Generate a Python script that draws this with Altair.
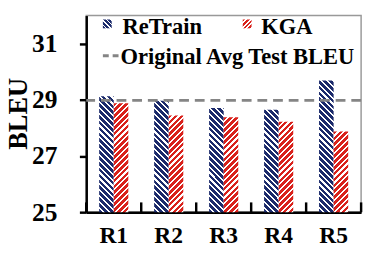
import altair as alt

rounds = ["R1", "R2", "R3", "R4", "R5"]
series = ["ReTrain", "KGA"]
retrain = [29.13, 28.97, 28.71, 28.65, 29.69]
kga = [28.88, 28.44, 28.38, 28.22, 27.87]
avg_bleu = [28.98]
avg_label = "Original Avg Test BLEU"
y_ticks = [25, 27, 29, 31]

colors = {"ReTrain": "#1B2A6B", "KGA": "#D9221C"}
direction = {"ReTrain": "\\", "KGA": "/"}

W, H = 281, 201
Y0, Y1 = 25, 32
BAR_W = W / 5 / 3.77
FONT = "Liberation Serif"


def hatch(w, h, color, d, period=6.0, frac=0.62):
    L = w + h
    s = L / (w * w + h * h)
    if d == "/":
        x1, y1, x2, y2 = 0, 0, w * s, h * s
    else:
        x1, y1, x2, y2 = 0, 1, w * s, 1 - h * s
    stops = []
    k = 0
    while k * period < L:
        a = k * period / L
        b = min((k * period + frac * period) / L, 1.0)
        c = min((k + 1) * period / L, 1.0)
        stops += [
            {"offset": a, "color": color},
            {"offset": b, "color": color},
            {"offset": b, "color": "#ffffff"},
            {"offset": c, "color": "#ffffff"},
        ]
        k += 1
    return {"gradient": "linear", "x1": x1, "y1": y1, "x2": x2, "y2": y2, "stops": stops}


rows = []
for name, vals in zip(series, [retrain, kga]):
    for r, v in zip(rounds, vals):
        h = (v - Y0) * H / (Y1 - Y0)
        rows.append({"round": r, "series": name, "bleu": v,
                     "grad": hatch(BAR_W, h, colors[name], direction[name])})

xscale = alt.Scale(paddingInner=0, paddingOuter=0)
yaxis = alt.Axis(values=y_ticks, tickSize=7, labelPadding=23, labelFontSize=26,
                 titleFontSize=27, titleX=-61, titleY=100, titleAngle=270,
                 titleAlign="center", titleBaseline="alphabetic", title="BLEU")
xaxis = alt.Axis(ticks=False, labelFontSize=24, labelPadding=12, labelAngle=0,
                 title=None)

bars = alt.Chart(alt.Data(values=rows)).mark_bar(strokeWidth=0).encode(
    x=alt.X("round:N", sort=rounds, scale=xscale, axis=xaxis),
    xOffset=alt.XOffset("series:N", sort=series,
                        scale=alt.Scale(paddingInner=0, paddingOuter=0.886)),
    y=alt.Y("bleu:Q", scale=alt.Scale(domain=[Y0, Y1], nice=False, zero=False),
            stack=None, axis=yaxis),
    y2=alt.datum(Y0),
    fill=alt.Fill("grad:N", scale=None),
)

avg = alt.Chart(alt.Data(values=[{"bleu": v} for v in avg_bleu])).mark_rule(
    color="#858585", strokeWidth=3, strokeDash=[10, 6]
).encode(y=alt.Y("bleu:Q", axis=yaxis))

xticks = alt.Chart(alt.Data(values=[{"round": r} for r in rounds])).mark_rule(
    color="black", strokeWidth=2.5
).encode(
    x=alt.X("round:N", sort=rounds, bandPosition=0, axis=xaxis),
    y=alt.value(H - 10), y2=alt.value(H),
)
xend = alt.Chart(alt.Data(values=[{"round": rounds[-1]}])).mark_rule(
    color="black", strokeWidth=2.5
).encode(
    x=alt.X("round:N", sort=rounds, bandPosition=1, axis=xaxis),
    y=alt.value(H - 10), y2=alt.value(H),
)

# legend
leg_font = dict(font=FONT, fontWeight="bold", fontSize=23, align="left",
                baseline="alphabetic", color="black")


def leg_text(label, x, y):
    return alt.Chart(alt.Data(values=[{"t": label}])).mark_text(**leg_font).encode(
        text="t:N", x=alt.value(x), y=alt.value(y))


def leg_sym(name, x, y):
    return alt.Chart(alt.Data(values=[{"t": name}])).mark_rect(
        fill=hatch(9, 9, colors[name], direction[name], period=4.5), strokeWidth=0
    ).encode(x=alt.value(x), x2=alt.value(x + 9), y=alt.value(y), y2=alt.value(y + 9))


leg_line = alt.Chart(alt.Data(values=[{"t": avg_label}])).mark_rule(
    color="#858585", strokeWidth=3, strokeDash=[6, 4]
).encode(x=alt.value(17), x2=alt.value(34), y=alt.value(41))

chart = alt.layer(
    bars, avg, xticks, xend,
    leg_sym(series[0], 17, 4), leg_text(series[0], 37, 19),
    leg_sym(series[1], 160, 4), leg_text(series[1], 179, 19),
    leg_line, leg_text(avg_label, 35, 50),
).properties(
    width=W, height=H,
    autosize=alt.AutoSizeParams(type="none"),
    padding={"left": 80, "top": 5, "right": 5, "bottom": 40},
).configure_view(
    stroke="#999999", strokeWidth=1.5
).configure_axis(
    grid=False, domainColor="black", domainWidth=2.5, tickColor="black",
    tickWidth=2.5, labelFont=FONT, labelFontWeight="bold", labelColor="black",
    titleFont=FONT, titleFontWeight="bold", titleColor="black",
)

chart.save("out.html", embed_options={"renderer": "svg", "actions": False})
